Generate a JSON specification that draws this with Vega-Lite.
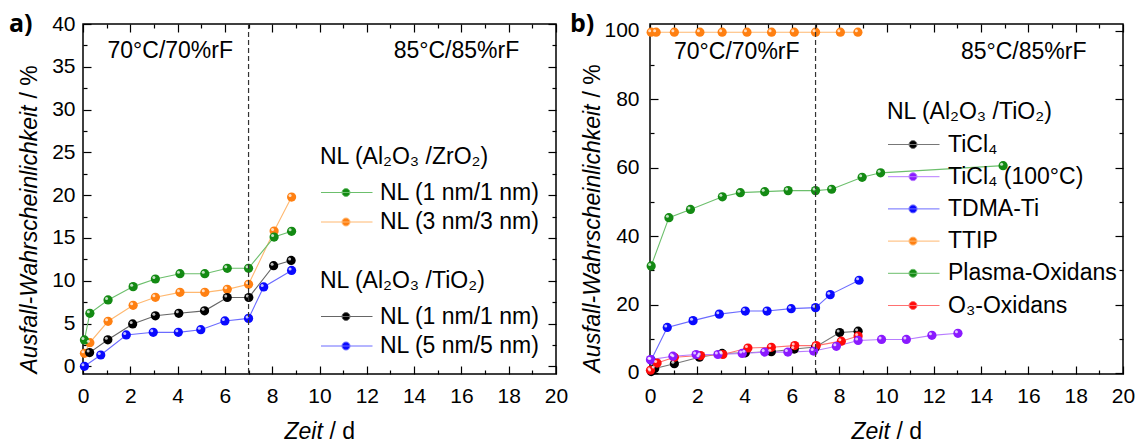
{
  "$schema": "https://vega.github.io/schema/vega-lite/v6.json",
  "background": "white",
  "padding": {"left": 8, "top": 11, "right": 3, "bottom": 5},
  "spacing": 94,
  "bounds": "flush",
  "config": {
    "font": "Liberation Sans",
    "view": {"stroke": "#000000", "strokeWidth": 1.5},
    "axis": {"grid": false, "domain": false, "tickColor": "#000000", "tickWidth": 1.2, "labelColor": "#000000", "labelFont": "Liberation Sans", "labelFontSize": 21, "titleFont": "Liberation Sans", "titleFontSize": 23, "titleFontWeight": "normal", "titleColor": "#000000", "labelFlush": false, "labelOverlap": false, "labelBound": false},
    "legend": {"labelFont": "Liberation Sans", "titleFont": "Liberation Sans", "labelFontSize": 23, "titleFontSize": 23, "titleFontWeight": "normal", "labelColor": "#000000", "titleColor": "#000000", "labelLimit": 400, "titleLimit": 400, "padding": 0, "symbolStrokeWidth": 1, "symbolOpacity": 1},
    "text": {"font": "Liberation Sans"}
  },
  "datasets": {
    "a": [
      {"g": "Z", "s": "NL (3 nm/3 nm)", "x": 0.06, "y": 1.52},
      {"g": "Z", "s": "NL (3 nm/3 nm)", "x": 0.29, "y": 2.76},
      {"g": "Z", "s": "NL (3 nm/3 nm)", "x": 1.06, "y": 5.26},
      {"g": "Z", "s": "NL (3 nm/3 nm)", "x": 2.12, "y": 7.13},
      {"g": "Z", "s": "NL (3 nm/3 nm)", "x": 3.06, "y": 8.06},
      {"g": "Z", "s": "NL (3 nm/3 nm)", "x": 4.1, "y": 8.64},
      {"g": "Z", "s": "NL (3 nm/3 nm)", "x": 5.15, "y": 8.64},
      {"g": "Z", "s": "NL (3 nm/3 nm)", "x": 6.1, "y": 8.99},
      {"g": "Z", "s": "NL (3 nm/3 nm)", "x": 7.0, "y": 9.58},
      {"g": "Z", "s": "NL (3 nm/3 nm)", "x": 8.08, "y": 15.8},
      {"g": "Z", "s": "NL (3 nm/3 nm)", "x": 8.82, "y": 19.78},
      {"g": "Z", "s": "NL (1 nm/1 nm)", "x": 0.06, "y": 3.08},
      {"g": "Z", "s": "NL (1 nm/1 nm)", "x": 0.29, "y": 6.19},
      {"g": "Z", "s": "NL (1 nm/1 nm)", "x": 1.06, "y": 7.75},
      {"g": "Z", "s": "NL (1 nm/1 nm)", "x": 2.12, "y": 9.31},
      {"g": "Z", "s": "NL (1 nm/1 nm)", "x": 3.06, "y": 10.2},
      {"g": "Z", "s": "NL (1 nm/1 nm)", "x": 4.1, "y": 10.82},
      {"g": "Z", "s": "NL (1 nm/1 nm)", "x": 5.15, "y": 10.82},
      {"g": "Z", "s": "NL (1 nm/1 nm)", "x": 6.1, "y": 11.45},
      {"g": "Z", "s": "NL (1 nm/1 nm)", "x": 7.0, "y": 11.45},
      {"g": "Z", "s": "NL (1 nm/1 nm)", "x": 8.08, "y": 15.1},
      {"g": "Z", "s": "NL (1 nm/1 nm)", "x": 8.82, "y": 15.77},
      {"g": "T", "s": "NL (5 nm/5 nm)", "x": 0.06, "y": 0.0},
      {"g": "T", "s": "NL (5 nm/5 nm)", "x": 0.75, "y": 1.32},
      {"g": "T", "s": "NL (5 nm/5 nm)", "x": 1.83, "y": 3.66},
      {"g": "T", "s": "NL (5 nm/5 nm)", "x": 2.97, "y": 3.97},
      {"g": "T", "s": "NL (5 nm/5 nm)", "x": 4.03, "y": 3.97},
      {"g": "T", "s": "NL (5 nm/5 nm)", "x": 4.98, "y": 4.28},
      {"g": "T", "s": "NL (5 nm/5 nm)", "x": 6.0, "y": 5.3},
      {"g": "T", "s": "NL (5 nm/5 nm)", "x": 7.0, "y": 5.6},
      {"g": "T", "s": "NL (5 nm/5 nm)", "x": 7.64, "y": 9.27},
      {"g": "T", "s": "NL (5 nm/5 nm)", "x": 8.82, "y": 11.2},
      {"g": "T", "s": "NL (1 nm/1 nm)", "x": 0.28, "y": 1.6},
      {"g": "T", "s": "NL (1 nm/1 nm)", "x": 1.05, "y": 3.1},
      {"g": "T", "s": "NL (1 nm/1 nm)", "x": 2.1, "y": 4.95},
      {"g": "T", "s": "NL (1 nm/1 nm)", "x": 3.06, "y": 5.9},
      {"g": "T", "s": "NL (1 nm/1 nm)", "x": 4.05, "y": 6.19},
      {"g": "T", "s": "NL (1 nm/1 nm)", "x": 5.14, "y": 6.48},
      {"g": "T", "s": "NL (1 nm/1 nm)", "x": 6.1, "y": 8.04},
      {"g": "T", "s": "NL (1 nm/1 nm)", "x": 7.01, "y": 8.04},
      {"g": "T", "s": "NL (1 nm/1 nm)", "x": 8.06, "y": 11.76},
      {"g": "T", "s": "NL (1 nm/1 nm)", "x": 8.8, "y": 12.37}
    ],
    "b": [
      {"s": "TTIP", "x": 0.05, "y": 99.6},
      {"s": "TTIP", "x": 0.26, "y": 99.6},
      {"s": "TTIP", "x": 1.03, "y": 99.6},
      {"s": "TTIP", "x": 2.11, "y": 99.6},
      {"s": "TTIP", "x": 3.05, "y": 99.6},
      {"s": "TTIP", "x": 4.1, "y": 99.6},
      {"s": "TTIP", "x": 5.14, "y": 99.6},
      {"s": "TTIP", "x": 6.1, "y": 99.6},
      {"s": "TTIP", "x": 7.0, "y": 99.6},
      {"s": "TTIP", "x": 8.05, "y": 99.6},
      {"s": "TTIP", "x": 8.79, "y": 99.6},
      {"s": "Plasma-Oxidans", "x": 0.05, "y": 31.3},
      {"s": "Plasma-Oxidans", "x": 0.8, "y": 45.4},
      {"s": "Plasma-Oxidans", "x": 1.71, "y": 47.8},
      {"s": "Plasma-Oxidans", "x": 3.06, "y": 51.5},
      {"s": "Plasma-Oxidans", "x": 3.82, "y": 52.7},
      {"s": "Plasma-Oxidans", "x": 4.85, "y": 53.0},
      {"s": "Plasma-Oxidans", "x": 5.84, "y": 53.3},
      {"s": "Plasma-Oxidans", "x": 7.0, "y": 53.3},
      {"s": "Plasma-Oxidans", "x": 7.68, "y": 53.7},
      {"s": "Plasma-Oxidans", "x": 8.97, "y": 57.2},
      {"s": "Plasma-Oxidans", "x": 9.75, "y": 58.5},
      {"s": "Plasma-Oxidans", "x": 14.93, "y": 60.6},
      {"s": "TDMA-Ti", "x": 0.05, "y": 3.8},
      {"s": "TDMA-Ti", "x": 0.73, "y": 13.3},
      {"s": "TDMA-Ti", "x": 1.82, "y": 15.3},
      {"s": "TDMA-Ti", "x": 2.93, "y": 17.2},
      {"s": "TDMA-Ti", "x": 4.03, "y": 18.1},
      {"s": "TDMA-Ti", "x": 4.95, "y": 18.1},
      {"s": "TDMA-Ti", "x": 5.97, "y": 18.8},
      {"s": "TDMA-Ti", "x": 7.0, "y": 19.1},
      {"s": "TDMA-Ti", "x": 7.62, "y": 22.9},
      {"s": "TDMA-Ti", "x": 8.84, "y": 27.1},
      {"s": "TiCl₄", "x": 0.05, "y": 0.4},
      {"s": "TiCl₄", "x": 0.2, "y": 1.3},
      {"s": "TiCl₄", "x": 1.03, "y": 2.7},
      {"s": "TiCl₄", "x": 2.09, "y": 4.6},
      {"s": "TiCl₄", "x": 3.05, "y": 5.7},
      {"s": "TiCl₄", "x": 4.03, "y": 5.9},
      {"s": "TiCl₄", "x": 5.13, "y": 6.2},
      {"s": "TiCl₄", "x": 6.1, "y": 7.0},
      {"s": "TiCl₄", "x": 7.0, "y": 7.6},
      {"s": "TiCl₄", "x": 8.02, "y": 11.8},
      {"s": "TiCl₄", "x": 8.8, "y": 12.2},
      {"s": "O₃-Oxidans", "x": 0.02, "y": 0.8},
      {"s": "O₃-Oxidans", "x": 0.3, "y": 2.9},
      {"s": "O₃-Oxidans", "x": 1.03, "y": 4.6},
      {"s": "O₃-Oxidans", "x": 2.14, "y": 5.1},
      {"s": "O₃-Oxidans", "x": 3.08, "y": 5.4},
      {"s": "O₃-Oxidans", "x": 4.14, "y": 7.3},
      {"s": "O₃-Oxidans", "x": 5.13, "y": 7.5},
      {"s": "O₃-Oxidans", "x": 6.12, "y": 8.0},
      {"s": "O₃-Oxidans", "x": 7.03, "y": 8.0},
      {"s": "O₃-Oxidans", "x": 8.09, "y": 9.3},
      {"s": "O₃-Oxidans", "x": 8.8, "y": 10.8},
      {"s": "TiCl₄ (100°C)", "x": 0.02, "y": 3.9},
      {"s": "TiCl₄ (100°C)", "x": 0.97, "y": 4.9},
      {"s": "TiCl₄ (100°C)", "x": 1.95, "y": 5.4},
      {"s": "TiCl₄ (100°C)", "x": 2.87, "y": 5.4},
      {"s": "TiCl₄ (100°C)", "x": 3.9, "y": 5.7},
      {"s": "TiCl₄ (100°C)", "x": 4.85, "y": 6.1},
      {"s": "TiCl₄ (100°C)", "x": 5.83, "y": 6.1},
      {"s": "TiCl₄ (100°C)", "x": 6.92, "y": 6.4},
      {"s": "TiCl₄ (100°C)", "x": 7.88, "y": 7.8},
      {"s": "TiCl₄ (100°C)", "x": 8.8, "y": 9.5},
      {"s": "TiCl₄ (100°C)", "x": 9.79, "y": 9.8},
      {"s": "TiCl₄ (100°C)", "x": 10.84, "y": 9.8},
      {"s": "TiCl₄ (100°C)", "x": 11.92, "y": 11.0},
      {"s": "TiCl₄ (100°C)", "x": 13.02, "y": 11.6}
    ],
    "ann": [
      {"p": "a", "k": 1, "t": "70°C/70%rF", "x": 3.69, "y": 36.8},
      {"p": "a", "k": 2, "t": "85°C/85%rF", "x": 15.79, "y": 36.8},
      {"p": "b", "k": 1, "t": "70°C/70%rF", "x": 3.67, "y": 93.9},
      {"p": "b", "k": 2, "t": "85°C/85%rF", "x": 15.8, "y": 93.9}
    ],
    "div": [{"x": 7}]
  },
  "hconcat": [
    {
      "width": 473,
      "height": 350,
      "title": {"text": "a)", "anchor": "start", "frame": "group", "orient": "top", "font": "Open Sans", "fontSize": 25, "fontWeight": "bold", "color": "#000000", "dx": -74, "offset": -24},
      "resolve": {"axis": {"x": "independent", "y": "independent"}, "scale": {"fill": "independent", "stroke": "independent"}},
      "layer": [
        {
          "data": {"name": "a"},
          "transform": [{"filter": "datum.g == 'Z'"}],
          "encoding": {
            "x": {"field": "x", "type": "quantitative", "scale": {"domain": [0, 20], "nice": false, "zero": false},
              "axis": {"orient": "bottom", "values": [0, 2, 4, 6, 8, 10, 12, 14, 16, 18, 20], "tickSize": -8, "labelPadding": 19, "title": "Zeit", "titleFontStyle": "italic", "titleAlign": "left", "titleBaseline": "alphabetic", "titleX": 201, "titleY": 64}},
            "y": {"field": "y", "type": "quantitative", "scale": {"domain": [-0.9, 40], "nice": false, "zero": false},
              "axis": {"orient": "left", "values": [0, 5, 10, 15, 20, 25, 30, 35, 40], "tickSize": -8, "labelPadding": 16, "title": "Ausfall-Wahrscheinlichkeit", "titleFontStyle": "italic", "titleAngle": 270, "titleAlign": "left", "titleBaseline": "alphabetic", "titleX": -47, "titleY": 349}}
          },
          "layer": [
            {"mark": {"type": "line", "strokeWidth": 1.1},
             "encoding": {"stroke": {"field": "s", "type": "nominal", "scale": {"domain": ["NL (1 nm/1 nm)", "NL (3 nm/3 nm)"], "range": ["#6cbf6c", "#ffb870"]},
               "legend": {"title": "NL (Al₂O₃ /ZrO₂)", "orient": "none", "legendX": 237, "legendY": 122, "symbolType": "M-1.05,0L4.1,0M1.85,0A0.4,0.4,0,1,1,1.05,0A0.4,0.4,0,1,1,1.85,0Z", "symbolSize": 400, "labelOffset": 37, "titlePadding": 12, "rowPadding": 5.5}}}},
            {"mark": {"type": "point", "filled": true, "size": 85, "opacity": 1},
             "encoding": {"fill": {"field": "s", "type": "nominal", "scale": {"domain": ["NL (1 nm/1 nm)", "NL (3 nm/3 nm)"], "range": ["#138a13", "#ff8012"]},
               "legend": {"title": "NL (Al₂O₃ /ZrO₂)", "orient": "none", "legendX": 237, "legendY": 122, "symbolType": "M-1.05,0L4.1,0M1.85,0A0.4,0.4,0,1,1,1.05,0A0.4,0.4,0,1,1,1.85,0Z", "symbolSize": 400, "labelOffset": 37, "titlePadding": 12, "rowPadding": 5.5}}}},
            {"mark": {"type": "point", "filled": true, "size": 9, "color": "#ffffff", "opacity": 0.75, "xOffset": -1.5, "yOffset": -1.5}}
          ]
        },
        {
          "data": {"name": "a"},
          "transform": [{"filter": "datum.g == 'T'"}],
          "encoding": {
            "x": {"field": "x", "type": "quantitative", "scale": {"domain": [0, 20], "nice": false, "zero": false},
              "axis": {"orient": "bottom", "values": [1, 3, 5, 7, 9, 11, 13, 15, 17, 19], "tickSize": -4, "labels": false, "title": "/ d", "titleAlign": "left", "titleBaseline": "alphabetic", "titleX": 246, "titleY": 64}},
            "y": {"field": "y", "type": "quantitative", "scale": {"domain": [-0.9, 40], "nice": false, "zero": false},
              "axis": {"orient": "left", "values": [2.5, 7.5, 12.5, 17.5, 22.5, 27.5, 32.5, 37.5], "tickSize": -4, "labels": false, "title": "/ %", "titleAngle": 270, "titleAlign": "left", "titleBaseline": "alphabetic", "titleX": -47, "titleY": 74}}
          },
          "layer": [
            {"mark": {"type": "line", "strokeWidth": 1.1},
             "encoding": {"stroke": {"field": "s", "type": "nominal", "scale": {"domain": ["NL (1 nm/1 nm)", "NL (5 nm/5 nm)"], "range": ["#666666", "#6b6bff"]},
               "legend": {"title": "NL (Al₂O₃ /TiO₂)", "orient": "none", "legendX": 237, "legendY": 246, "symbolType": "M-1.05,0L4.1,0M1.85,0A0.4,0.4,0,1,1,1.05,0A0.4,0.4,0,1,1,1.85,0Z", "symbolSize": 400, "labelOffset": 37, "titlePadding": 12, "rowPadding": 5.5}}}},
            {"mark": {"type": "point", "filled": true, "size": 85, "opacity": 1},
             "encoding": {"fill": {"field": "s", "type": "nominal", "scale": {"domain": ["NL (1 nm/1 nm)", "NL (5 nm/5 nm)"], "range": ["#000000", "#0a0aff"]},
               "legend": {"title": "NL (Al₂O₃ /TiO₂)", "orient": "none", "legendX": 237, "legendY": 246, "symbolType": "M-1.05,0L4.1,0M1.85,0A0.4,0.4,0,1,1,1.05,0A0.4,0.4,0,1,1,1.85,0Z", "symbolSize": 400, "labelOffset": 37, "titlePadding": 12, "rowPadding": 5.5}}}},
            {"mark": {"type": "point", "filled": true, "size": 9, "color": "#ffffff", "opacity": 0.75, "xOffset": -1.5, "yOffset": -1.5}}
          ]
        },
        {
          "data": {"name": "ann"},
          "transform": [{"filter": "datum.p == 'a' && datum.k == 1"}],
          "mark": {"type": "text", "fontSize": 23, "align": "center", "baseline": "middle", "color": "#000000"},
          "encoding": {
            "x": {"field": "x", "type": "quantitative", "scale": {"domain": [0, 20], "nice": false, "zero": false},
              "axis": {"orient": "top", "values": [0, 2, 4, 6, 8, 10, 12, 14, 16, 18, 20], "tickSize": -8, "labels": false, "title": null}},
            "y": {"field": "y", "type": "quantitative", "scale": {"domain": [-0.9, 40], "nice": false, "zero": false},
              "axis": {"orient": "right", "values": [0, 5, 10, 15, 20, 25, 30, 35, 40], "tickSize": -8, "labels": false, "title": null}},
            "text": {"field": "t"}
          }
        },
        {
          "data": {"name": "ann"},
          "transform": [{"filter": "datum.p == 'a' && datum.k == 2"}],
          "mark": {"type": "text", "fontSize": 23, "align": "center", "baseline": "middle", "color": "#000000"},
          "encoding": {
            "x": {"field": "x", "type": "quantitative", "scale": {"domain": [0, 20], "nice": false, "zero": false},
              "axis": {"orient": "top", "values": [1, 3, 5, 7, 9, 11, 13, 15, 17, 19], "tickSize": -4, "labels": false, "title": null}},
            "y": {"field": "y", "type": "quantitative", "scale": {"domain": [-0.9, 40], "nice": false, "zero": false},
              "axis": {"orient": "right", "values": [2.5, 7.5, 12.5, 17.5, 22.5, 27.5, 32.5, 37.5], "tickSize": -4, "labels": false, "title": null}},
            "text": {"field": "t"}
          }
        },
        {
          "data": {"name": "div"},
          "mark": {"type": "rule", "color": "#333333", "strokeWidth": 1.2, "strokeDash": [5, 3]},
          "encoding": {"x": {"field": "x", "type": "quantitative", "scale": {"domain": [0, 20], "nice": false, "zero": false}, "axis": null}}
        }
      ]
    },
    {
      "width": 473,
      "height": 350,
      "title": {"text": "b)", "anchor": "start", "frame": "group", "orient": "top", "font": "Open Sans", "fontSize": 25, "fontWeight": "bold", "color": "#000000", "dx": -80, "offset": -17},
      "resolve": {"axis": {"x": "independent", "y": "independent"}},
      "layer": [
        {
          "data": {"name": "b"},
          "mark": {"type": "line", "strokeWidth": 1.1},
          "encoding": {
            "x": {"field": "x", "type": "quantitative", "scale": {"domain": [0, 20], "nice": false, "zero": false},
              "axis": {"orient": "bottom", "values": [0, 2, 4, 6, 8, 10, 12, 14, 16, 18, 20], "tickSize": -8, "labelPadding": 19, "title": "Zeit", "titleFontStyle": "italic", "titleAlign": "left", "titleBaseline": "alphabetic", "titleX": 201, "titleY": 64}},
            "y": {"field": "y", "type": "quantitative", "scale": {"domain": [-0.3, 102], "nice": false, "zero": false},
              "axis": {"orient": "left", "values": [0, 20, 40, 60, 80, 100], "tickSize": -8, "labelPadding": 19, "title": "Ausfall-Wahrscheinlichkeit", "titleFontStyle": "italic", "titleAngle": 270, "titleAlign": "left", "titleBaseline": "alphabetic", "titleX": -51, "titleY": 348}},
            "stroke": {"field": "s", "type": "nominal", "scale": {"domain": ["TiCl₄", "TiCl₄ (100°C)", "TDMA-Ti", "TTIP", "Plasma-Oxidans", "O₃-Oxidans"], "range": ["#777777", "#b77cff", "#6b6bff", "#ffb870", "#6cbf6c", "#ff7070"]},
              "legend": {"title": "NL (Al₂O₃ /TiO₂)", "orient": "none", "legendX": 804, "legendY": 77, "symbolType": "M-1.05,0L4.1,0M1.85,0A0.4,0.4,0,1,1,1.05,0A0.4,0.4,0,1,1,1.85,0Z", "symbolSize": 400, "labelOffset": 38, "titlePadding": 9, "rowPadding": 8.2}}
          }
        },
        {
          "data": {"name": "b"},
          "mark": {"type": "point", "filled": true, "size": 85, "opacity": 1},
          "encoding": {
            "x": {"field": "x", "type": "quantitative", "scale": {"domain": [0, 20], "nice": false, "zero": false},
              "axis": {"orient": "bottom", "values": [1, 3, 5, 7, 9, 11, 13, 15, 17, 19], "tickSize": -4, "labels": false, "title": "/ d", "titleAlign": "left", "titleBaseline": "alphabetic", "titleX": 246, "titleY": 64}},
            "y": {"field": "y", "type": "quantitative", "scale": {"domain": [-0.3, 102], "nice": false, "zero": false},
              "axis": {"orient": "left", "values": [10, 30, 50, 70, 90], "tickSize": -4, "labels": false, "title": "/ %", "titleAngle": 270, "titleAlign": "left", "titleBaseline": "alphabetic", "titleX": -51, "titleY": 73}},
            "fill": {"field": "s", "type": "nominal", "scale": {"domain": ["TiCl₄", "TiCl₄ (100°C)", "TDMA-Ti", "TTIP", "Plasma-Oxidans", "O₃-Oxidans"], "range": ["#000000", "#8a1aff", "#0a0aff", "#ff8012", "#138a13", "#ff0a0a"]},
              "legend": {"title": "NL (Al₂O₃ /TiO₂)", "orient": "none", "legendX": 804, "legendY": 77, "symbolType": "M-1.05,0L4.1,0M1.85,0A0.4,0.4,0,1,1,1.05,0A0.4,0.4,0,1,1,1.85,0Z", "symbolSize": 400, "labelOffset": 38, "titlePadding": 9, "rowPadding": 8.2}}
          }
        },
        {
          "data": {"name": "b"},
          "mark": {"type": "point", "filled": true, "size": 9, "color": "#ffffff", "opacity": 0.75, "xOffset": -1.5, "yOffset": -1.5},
          "encoding": {
            "x": {"field": "x", "type": "quantitative", "scale": {"domain": [0, 20], "nice": false, "zero": false}, "axis": null},
            "y": {"field": "y", "type": "quantitative", "scale": {"domain": [-0.3, 102], "nice": false, "zero": false}, "axis": null}
          }
        },
        {
          "data": {"name": "ann"},
          "transform": [{"filter": "datum.p == 'b' && datum.k == 1"}],
          "mark": {"type": "text", "fontSize": 23, "align": "center", "baseline": "middle", "color": "#000000"},
          "encoding": {
            "x": {"field": "x", "type": "quantitative", "scale": {"domain": [0, 20], "nice": false, "zero": false},
              "axis": {"orient": "top", "values": [0, 2, 4, 6, 8, 10, 12, 14, 16, 18, 20], "tickSize": -8, "labels": false, "title": null}},
            "y": {"field": "y", "type": "quantitative", "scale": {"domain": [-0.3, 102], "nice": false, "zero": false},
              "axis": {"orient": "right", "values": [0, 20, 40, 60, 80, 100], "tickSize": -8, "labels": false, "title": null}},
            "text": {"field": "t"}
          }
        },
        {
          "data": {"name": "ann"},
          "transform": [{"filter": "datum.p == 'b' && datum.k == 2"}],
          "mark": {"type": "text", "fontSize": 23, "align": "center", "baseline": "middle", "color": "#000000"},
          "encoding": {
            "x": {"field": "x", "type": "quantitative", "scale": {"domain": [0, 20], "nice": false, "zero": false},
              "axis": {"orient": "top", "values": [1, 3, 5, 7, 9, 11, 13, 15, 17, 19], "tickSize": -4, "labels": false, "title": null}},
            "y": {"field": "y", "type": "quantitative", "scale": {"domain": [-0.3, 102], "nice": false, "zero": false},
              "axis": {"orient": "right", "values": [10, 30, 50, 70, 90], "tickSize": -4, "labels": false, "title": null}},
            "text": {"field": "t"}
          }
        },
        {
          "data": {"name": "div"},
          "mark": {"type": "rule", "color": "#333333", "strokeWidth": 1.2, "strokeDash": [5, 3]},
          "encoding": {"x": {"field": "x", "type": "quantitative", "scale": {"domain": [0, 20], "nice": false, "zero": false}, "axis": null}}
        }
      ]
    }
  ]
}
